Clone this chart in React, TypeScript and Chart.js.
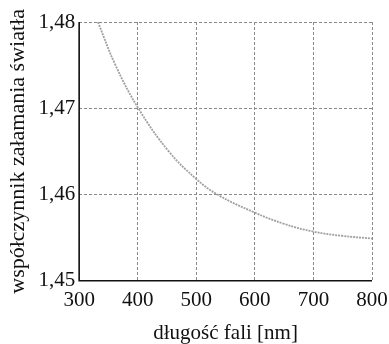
import React, { useEffect, useRef } from "react";
import { Chart, registerables } from "chart.js";

Chart.register(...registerables);

const wavelengths = [332, 362, 401, 453, 500, 536, 600, 650, 700, 750, 800];
const refractiveIndex = [1.48, 1.475, 1.47, 1.465, 1.4618, 1.46, 1.4579, 1.4566, 1.4557, 1.4552, 1.4549];
const xTicks = [300, 400, 500, 600, 700, 800];
const yTicks = [1.45, 1.46, 1.47, 1.48];

const FONT = "'Liberation Serif', 'DejaVu Serif', serif";

const axisLines = {
  id: "axisLines",
  afterDatasetsDraw: (c: any) => {
    const { ctx, chartArea: a } = c;
    ctx.save();
    ctx.setLineDash([]);
    ctx.strokeStyle = "#111";
    ctx.lineWidth = 1.6;
    ctx.beginPath();
    ctx.moveTo(a.left, a.top);
    ctx.lineTo(a.left, a.bottom);
    ctx.lineTo(a.right, a.bottom);
    ctx.stroke();
    ctx.restore();
  },
};

export default function App() {
  const ref = useRef<HTMLCanvasElement | null>(null);

  useEffect(() => {
    document.body.style.margin = "0";
    const canvas = ref.current;
    if (!canvas) return;
    const chart = new Chart(canvas, {
      type: "line",
      data: {
        datasets: [
          {
            data: wavelengths.map((w, i) => ({ x: w, y: refractiveIndex[i] })),
            borderColor: "#a0a0a0",
            borderWidth: 1.8,
            borderDash: [2, 1],
            pointRadius: 0,
            tension: 0.4,
            fill: false,
          },
        ],
      },
      options: {
        animation: false,
        responsive: false,
        maintainAspectRatio: false,
        layout: { padding: { left: 5, right: 0, top: 22, bottom: 0 } },
        plugins: { legend: { display: false }, tooltip: { enabled: false } },
        scales: {
          x: {
            type: "linear",
            min: 300,
            max: 800,
            afterBuildTicks: (s: any) => {
              s.ticks = xTicks.map((v) => ({ value: v }));
            },
            afterFit: (s: any) => {
              s.paddingRight = 17;
            },
            ticks: {
              color: "#111",
              font: { family: FONT, size: 21 },
              padding: 7,
              maxRotation: 0,
              callback: (v: any) => String(v),
            },
            grid: {
              color: "#8a8a8a",
              lineWidth: 1,
              drawTicks: false,
            },
            border: { display: false, dash: [3, 2] },
            title: {
              display: true,
              text: "długość fali [nm]",
              color: "#111",
              font: { family: FONT, size: 21, lineHeight: 1.0 },
              padding: { top: 3, bottom: 0 },
            },
          },
          y: {
            type: "linear",
            min: 1.45,
            max: 1.48,
            afterBuildTicks: (s: any) => {
              s.ticks = yTicks.map((v) => ({ value: v }));
            },
            ticks: {
              color: "#111",
              font: { family: FONT, size: 21 },
              padding: 4,
              callback: (v: any) => Number(v).toFixed(2).replace(".", ","),
            },
            grid: {
              color: "#8a8a8a",
              lineWidth: 1,
              drawTicks: false,
            },
            border: { display: false, dash: [3, 2] },
            title: {
              display: true,
              text: "współczynnik załamania światła",
              color: "#111",
              font: { family: FONT, size: 22 },
              padding: { top: 0, bottom: 3 },
            },
          },
        },
      },
      plugins: [axisLines],
    } as any);
    return () => chart.destroy();
  }, []);

  return (
    <div style={{ position: "fixed", left: 0, top: 0, width: 389, height: 344, background: "#fff" }}>
      <canvas ref={ref} width={389} height={344} style={{ width: 389, height: 344 }} />
    </div>
  );
}
